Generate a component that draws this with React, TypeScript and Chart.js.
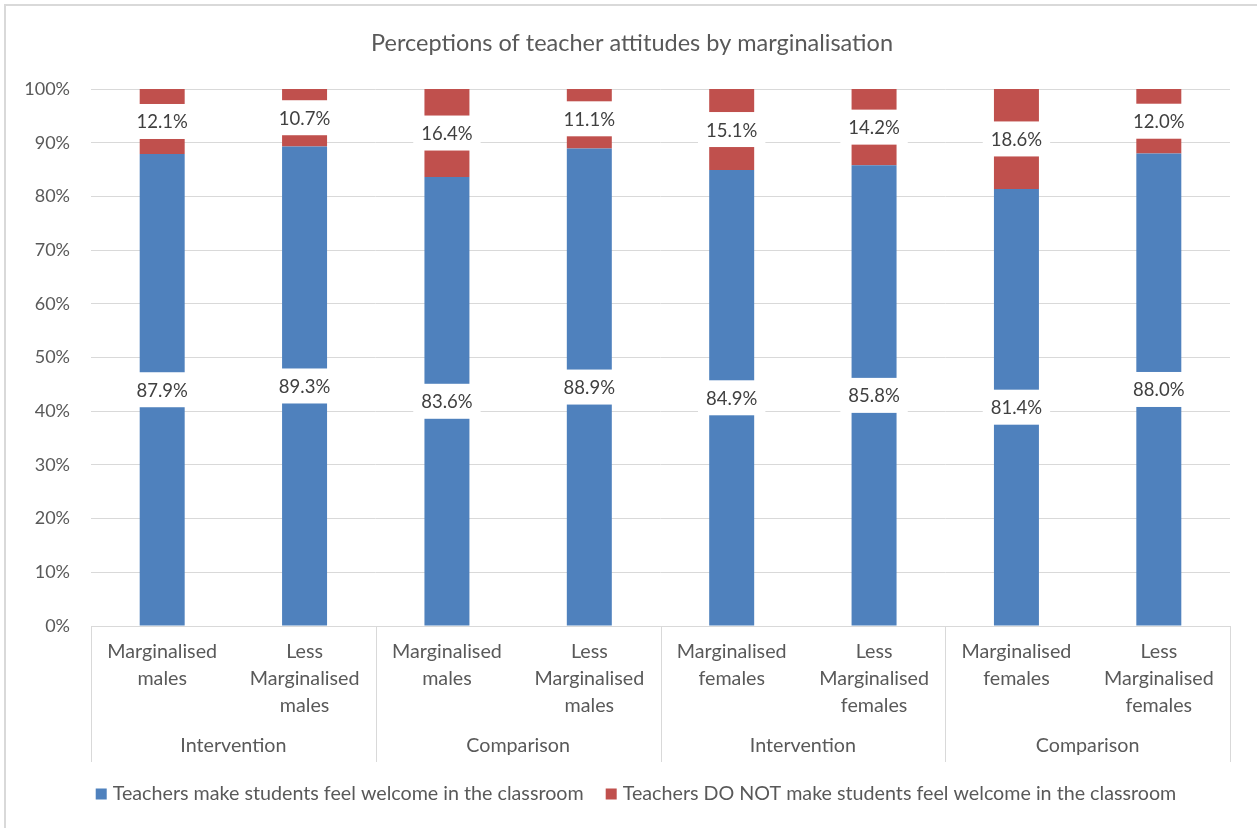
import React, { useEffect, useRef } from "react";
import { Chart, registerables } from "chart.js";

Chart.register(...registerables);

const TITLE = "Perceptions of teacher attitudes by marginalisation";
const categoryLabels: string[][] = [
  ["Marginalised", "males"],
  ["Less", "Marginalised", "males"],
  ["Marginalised", "males"],
  ["Less", "Marginalised", "males"],
  ["Marginalised", "females"],
  ["Less", "Marginalised", "females"],
  ["Marginalised", "females"],
  ["Less", "Marginalised", "females"],
];
const groupLabels = ["Intervention", "Comparison", "Intervention", "Comparison"];
const welcomeValues = [87.9, 89.3, 83.6, 88.9, 84.9, 85.8, 81.4, 88.0];
const notWelcomeValues = [12.1, 10.7, 16.4, 11.1, 15.1, 14.2, 18.6, 12.0];
const seriesNames = [
  "Teachers make students feel welcome in the classroom",
  "Teachers DO NOT make students feel welcome in the classroom",
];
const yTicks = [0, 10, 20, 30, 40, 50, 60, 70, 80, 90, 100];

const FONT = "Lato, 'Open Sans', sans-serif";
const GRID = "#d9d9d9";
const TEXT = "#595959";

const decorPlugin = {
  id: "decor",
  beforeDraw(chart: any) {
    const ctx = chart.ctx;
    ctx.save();
    ctx.strokeStyle = GRID;
    ctx.lineWidth = 2;
    ctx.strokeRect(5, 5, chart.width + 20, chart.height + 20);
    ctx.fillStyle = TEXT;
    ctx.font = `23.5px ${FONT}`;
    ctx.textAlign = "center";
    ctx.textBaseline = "middle";
    ctx.fillText(TITLE, 632, 43);
    ctx.restore();
  },
  afterDraw(chart: any) {
    const ctx = chart.ctx;
    const area = chart.chartArea;
    const xs = chart.scales.x;
    ctx.save();
    ctx.strokeStyle = GRID;
    ctx.lineWidth = 1;
    ctx.beginPath();
    ctx.moveTo(area.left, area.bottom + 0.5);
    ctx.lineTo(area.right, area.bottom + 0.5);
    const nG = groupLabels.length;
    for (let k = 0; k <= nG; k++) {
      const x = Math.round(area.left + ((area.right - area.left) * k) / nG) + 0.5;
      ctx.moveTo(x, area.bottom);
      ctx.lineTo(x, area.bottom + 136);
    }
    ctx.stroke();
    ctx.fillStyle = TEXT;
    ctx.font = `19.7px ${FONT}`;
    ctx.textAlign = "center";
    ctx.textBaseline = "middle";
    categoryLabels.forEach((lines, i) => {
      const x = xs.getPixelForValue(i);
      lines.forEach((ln, j) => ctx.fillText(ln, x, area.bottom + 26 + j * 27));
    });
    groupLabels.forEach((g, k) => {
      const x = area.left + ((area.right - area.left) * (k + 0.5)) / nG;
      ctx.fillText(g, x, area.bottom + 120);
    });
    const colors = chart.data.datasets.map((d: any) => d.backgroundColor);
    const names = chart.data.datasets.map((d: any) => d.label);
    const box = 11, gapBox = 6, gapItem = 22;
    const widths = names.map((n: string) => box + gapBox + ctx.measureText(n).width);
    const total = widths.reduce((a: number, b: number) => a + b, 0) + gapItem * (names.length - 1);
    let lx = 636 - total / 2;
    const ly = 794;
    ctx.textAlign = "left";
    names.forEach((n: string, i: number) => {
      ctx.fillStyle = colors[i];
      ctx.fillRect(lx, ly - box / 2, box, box);
      ctx.fillStyle = TEXT;
      ctx.fillText(n, lx + box + gapBox, ly);
      lx += widths[i] + gapItem;
    });
    ctx.restore();
  },
  afterDatasetsDraw(chart: any) {
    const ctx = chart.ctx;
    ctx.save();
    ctx.font = `18.5px ${FONT}`;
    ctx.textAlign = "center";
    ctx.textBaseline = "middle";
    chart.data.datasets.forEach((ds: any, di: number) => {
      const meta = chart.getDatasetMeta(di);
      meta.data.forEach((el: any, i: number) => {
        const v = ds.data[i];
        const txt = v.toFixed(1) + "%";
        const cx = el.x;
        const cy = (el.y + el.base) / 2;
        const w = ctx.measureText(txt).width + 16;
        const h = 35;
        ctx.fillStyle = "#ffffff";
        ctx.fillRect(cx - w / 2, cy - h / 2, w, h);
        ctx.fillStyle = "#404040";
        ctx.fillText(txt, cx, cy + 1);
      });
    });
    ctx.restore();
  },
};

export default function App() {
  const ref = useRef<HTMLCanvasElement | null>(null);
  useEffect(() => {
    if (!ref.current) return;
    const chart = new Chart(ref.current, {
      type: "bar",
      data: {
        labels: categoryLabels.map((l) => l.join(" ")),
        datasets: [
          {
            label: seriesNames[0],
            data: welcomeValues,
            backgroundColor: "#4F81BD",
            barPercentage: 0.316,
            categoryPercentage: 1,
          },
          {
            label: seriesNames[1],
            data: notWelcomeValues,
            backgroundColor: "#C0504D",
            barPercentage: 0.316,
            categoryPercentage: 1,
          },
        ],
      },
      options: {
        animation: false,
        responsive: false,
        devicePixelRatio: 1,
        layout: { padding: { top: 89, left: 10, right: 27, bottom: 66 } },
        plugins: {
          legend: { display: false },
          title: { display: false },
          tooltip: { enabled: false },
        },
        scales: {
          x: {
            stacked: true,
            grid: { display: false },
            border: { display: false },
            ticks: { display: false },
            afterFit: (s: any) => {
              s.height = 136;
            },
          },
          y: {
            stacked: true,
            min: 0,
            max: 100,
            afterBuildTicks: (s: any) => {
              s.ticks = yTicks.map((v) => ({ value: v }));
            },
            afterFit: (s: any) => {
              s.width = 81;
            },
            grid: { color: GRID, drawTicks: false },
            border: { display: false },
            ticks: {
              padding: 21,
              color: TEXT,
              font: { family: FONT, size: 18 },
              callback: (v: any) => v + "%",
            },
          },
        },
      },
      plugins: [decorPlugin],
    });
    return () => chart.destroy();
  }, []);
  return (
    <div style={{ position: "fixed", left: 0, top: 0, width: 1257, height: 828, background: "#fff" }}>
      <canvas ref={ref} width={1257} height={828} style={{ display: "block" }} />
    </div>
  );
}
